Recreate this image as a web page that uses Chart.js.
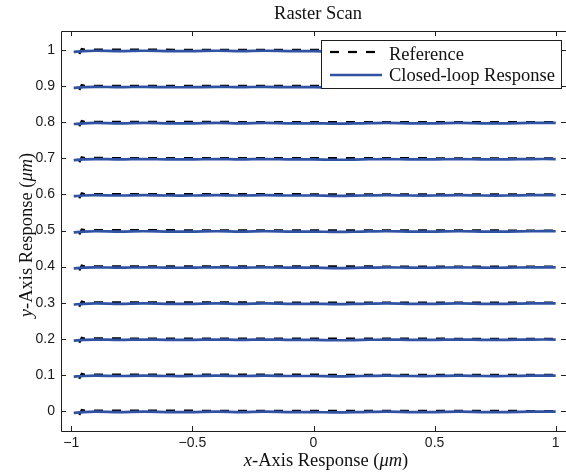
<!DOCTYPE html>
<html><head><meta charset="utf-8">
<script src="https://cdn.jsdelivr.net/npm/chart.js@4.4.1/dist/chart.umd.min.js"></script>
<style>html,body{margin:0;padding:0;background:#fff}canvas{display:block}</style>
</head><body>
<canvas id="c" width="566" height="476"></canvas>
<script>
// ---- data ----
const chartTitle = 'Raster Scan';
const seriesNames = ['Reference', 'Closed-loop Response'];
const rowLevels = [0, 0.1, 0.2, 0.3, 0.4, 0.5, 0.6, 0.7, 0.8, 0.9, 1.0];
const referenceX  = [-0.967, -0.957, -0.945, 1.0];
const referenceDy = [-0.011, 0.003, 0.001, 0.0];
const responseX  = [-0.99, -0.95, -0.9, -0.8, -0.7, -0.6, -0.5, -0.4, -0.3, -0.2, -0.1, 0.0, 0.1, 0.2, 0.3, 0.4, 0.5, 0.6, 0.7, 0.8, 0.9, 1.0];
const responseDy = [-0.005, -0.003, -0.002, -0.003, -0.002, -0.003, -0.003, -0.002, -0.003, -0.002, -0.003, -0.003, -0.004, -0.003, -0.002, -0.003, -0.003, -0.002, -0.003, -0.003, -0.002, -0.002];
const xTickValues = [-1, -0.5, 0, 0.5, 1];
const xTickLabels = ['\u22121', '\u22120.5', '0', '0.5', '1'];
const yTickValues = [0, 0.1, 0.2, 0.3, 0.4, 0.5, 0.6, 0.7, 0.8, 0.9, 1.0];
const yTickLabels = ['0', '0.1', '0.2', '0.3', '0.4', '0.5', '0.6', '0.7', '0.8', '0.9', '1'];

function buildRows(xs, dys) {
  const pts = [];
  rowLevels.forEach((lvl, i) => {
    if (i) pts.push({x: xs[xs.length - 1], y: null});
    xs.forEach((x, j) => pts.push({x: x, y: lvl + dys[j]}));
  });
  return pts;
}

const SERIF = '"Liberation Serif", "Times New Roman", serif';
const SANS = '"Liberation Sans", Arial, sans-serif';
const SERIF_SIZE = 18.5;
const FRAME = '#1e1e1e';

function drawRich(ctx, parts, x, y, align) {
  let total = 0;
  parts.forEach(p => { ctx.font = (p.italic ? 'italic ' : '') + SERIF_SIZE + 'px ' + SERIF; p.w = ctx.measureText(p.t).width; total += p.w; });
  let cx = align === 'center' ? x - total / 2 : x;
  ctx.textAlign = 'left';
  ctx.textBaseline = 'alphabetic';
  parts.forEach(p => { ctx.font = (p.italic ? 'italic ' : '') + SERIF_SIZE + 'px ' + SERIF; ctx.fillText(p.t, cx, y); cx += p.w; });
}

const framePlugin = {
  id: 'frame',
  afterDatasetsDraw(chart) {
    const {ctx, chartArea: a, scales: {x, y}} = chart;
    ctx.save();
    ctx.strokeStyle = FRAME;
    ctx.lineWidth = 1;
    ctx.beginPath();
    ctx.rect(Math.round(a.left) + 0.5, Math.round(a.top) + 0.5, Math.round(a.right - a.left), Math.round(a.bottom - a.top));
    const tl = 5;
    xTickValues.forEach(v => {
      const px = Math.round(x.getPixelForValue(v)) + 0.5;
      ctx.moveTo(px, a.bottom); ctx.lineTo(px, a.bottom - tl);
      ctx.moveTo(px, a.top); ctx.lineTo(px, a.top + tl);
    });
    yTickValues.forEach(v => {
      const py = Math.round(y.getPixelForValue(v)) + 0.5;
      ctx.moveTo(a.left, py); ctx.lineTo(a.left + tl, py);
      ctx.moveTo(a.right, py); ctx.lineTo(a.right - tl, py);
    });
    ctx.stroke();
    ctx.restore();
  },
  afterDraw(chart) {
    const {ctx} = chart;
    ctx.save();
    ctx.fillStyle = '#111';
    // title
    drawRich(ctx, [{t: chartTitle}], 318, 19, 'center');
    // x axis title
    drawRich(ctx, [{t: 'x', italic: true}, {t: '-Axis Response ('}, {t: '\u03bcm', italic: true}, {t: ')'}], 326, 466, 'center');
    // y axis title
    ctx.translate(32, 235);
    ctx.rotate(-Math.PI / 2);
    drawRich(ctx, [{t: 'y', italic: true}, {t: '-Axis Response ('}, {t: '\u03bcm', italic: true}, {t: ')'}], 0, 0, 'center');
    ctx.restore();

    // legend box
    const ds = chart.data.datasets;
    const bx = 321.5, by = 40.5, bw = 240, bh = 48;
    ctx.save();
    ctx.fillStyle = '#fff';
    ctx.fillRect(bx, by, bw, bh);
    ctx.strokeStyle = FRAME;
    ctx.lineWidth = 1;
    ctx.strokeRect(bx, by, bw, bh);
    const rows = [{d: ds[0], ly: 52, ty: 59.5}, {d: ds[1], ly: 75, ty: 81}];
    rows.forEach(r => {
      ctx.beginPath();
      ctx.strokeStyle = r.d.borderColor;
      ctx.lineWidth = r.d.borderWidth;
      ctx.setLineDash(r.d.borderDash || []);
      ctx.moveTo(330, r.ly); ctx.lineTo(382, r.ly);
      ctx.stroke();
      ctx.setLineDash([]);
      ctx.fillStyle = '#111';
      drawRich(ctx, [{t: r.d.label}], 389, r.ty, 'left');
    });
    ctx.restore();
  }
};

new Chart(document.getElementById('c'), {
  type: 'scatter',
  data: {
    datasets: [
      { label: seriesNames[0], data: buildRows(referenceX, referenceDy), showLine: true, spanGaps: false,
        borderColor: '#000', borderWidth: 2.2, borderDash: [9, 9], pointRadius: 0, tension: 0, order: 2 },
      { label: seriesNames[1], data: buildRows(responseX, responseDy), showLine: true, spanGaps: false,
        borderColor: '#2f52a3', borderWidth: 2.7, pointRadius: 0, tension: 0.3, order: 1 }
    ]
  },
  options: {
    responsive: false,
    animation: false,
    devicePixelRatio: 1,
    layout: { padding: { left: 0, right: 0, top: 31, bottom: 0 } },
    plugins: {
      legend: { display: false },
      tooltip: { enabled: false },
      title: { display: false }
    },
    scales: {
      x: {
        type: 'linear', min: -1.0425, max: 1.0425,
        grid: { display: false, drawTicks: false }, border: { display: false },
        afterBuildTicks: s => { s.ticks = xTickValues.map(v => ({value: v})); },
        afterFit: s => { s.height = 45; },
        ticks: { autoSkip: false, maxRotation: 0, padding: 4, color: '#1a1a1a', font: { family: SANS, size: 14 },
          callback: (v) => { const i = xTickValues.indexOf(v); return i >= 0 ? xTickLabels[i] : ''; } }
      },
      y: {
        type: 'linear', min: -0.0554, max: 1.0527,
        grid: { display: false, drawTicks: false }, border: { display: false },
        afterBuildTicks: s => { s.ticks = yTickValues.map(v => ({value: v})); },
        afterFit: s => { s.width = 61; },
        ticks: { autoSkip: false, padding: 6, color: '#1a1a1a', font: { family: SANS, size: 14 },
          callback: (v) => { const i = yTickValues.findIndex(t => Math.abs(t - v) < 1e-9); return i >= 0 ? yTickLabels[i] : ''; } }
      }
    }
  },
  plugins: [framePlugin]
});
</script>
</body></html>
